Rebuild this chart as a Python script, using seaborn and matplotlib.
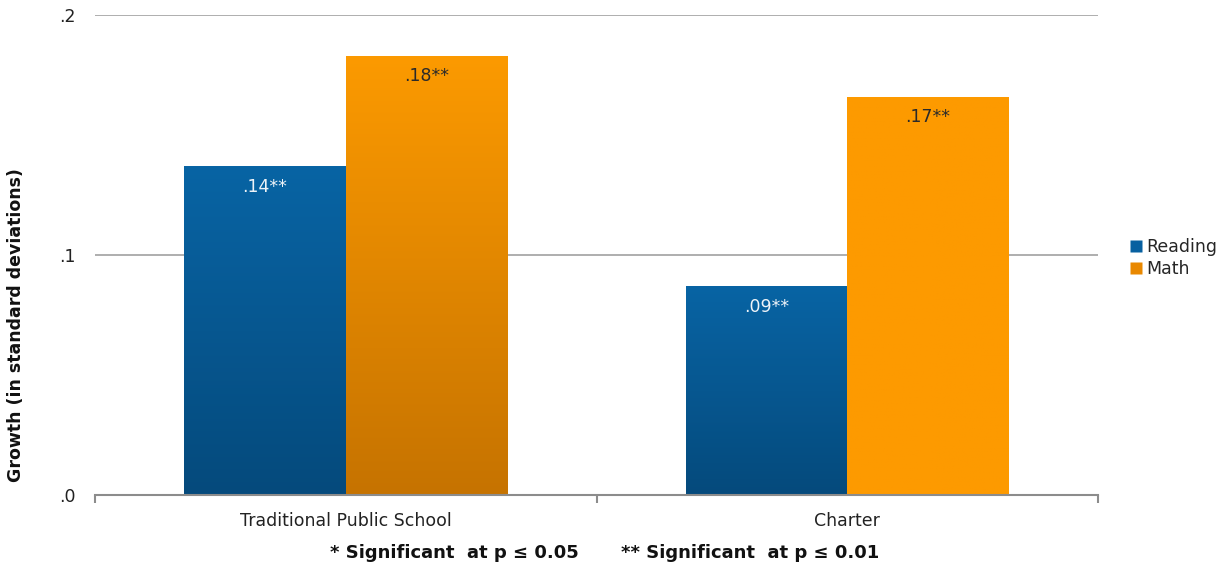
import numpy as np
import pandas as pd
import matplotlib
matplotlib.use("Agg")
import matplotlib.pyplot as plt
from matplotlib.colors import LinearSegmentedColormap
from matplotlib.lines import Line2D
import seaborn as sns

categories = ["Traditional Public School", "Charter"]
series = ["Reading", "Math"]
reading = [0.137, 0.087]
math_vals = [0.183, 0.166]
labels_reading = [".14**", ".09**"]
labels_math = [".18**", ".17**"]
yticks = [0.0, 0.1, 0.2]
ytick_labels = [".0", ".1", ".2"]

df = pd.DataFrame({
    "School": categories * 2,
    "Subject": ["Reading"] * 2 + ["Math"] * 2,
    "Growth": reading + math_vals,
})

sns.set_theme(style="white")
plt.rcParams["font.family"] = ["DejaVu Sans"]

fig = plt.figure(figsize=(12.28, 5.65), dpi=100)
ax = fig.add_axes([95 / 1228, 70 / 565, 1003 / 1228, 480 / 565])

palette = {"Reading": "#07599a", "Math": "#f89600"}
sns.barplot(data=df, x="School", y="Growth", hue="Subject", order=categories,
            hue_order=series, palette=palette, width=0.645, saturation=1,
            edgecolor="none", linewidth=0, ax=ax, legend=False, zorder=2)

ax.set_xlim(-0.5, 1.5)
ax.set_ylim(0, 0.2)

# gradients
grads = {
    ("Reading", 0): ("#0864a4", "#054a7c"),
    ("Reading", 1): ("#0864a4", "#054a7c"),
    ("Math", 0): ("#fc9a00", "#c67300"),
    ("Math", 1): ("#fd9a00", "#fd9a00"),
}
patches = list(ax.patches)
for i, p in enumerate(patches[:4]):
    subj = series[i // 2]
    cat = i % 2
    top, bot = grads[(subj, cat)]
    cmap = LinearSegmentedColormap.from_list("g", [bot, top])
    x0, y0 = p.get_x(), p.get_y()
    w, h = p.get_width(), p.get_height()
    grad = np.linspace(0, 1, 256).reshape(-1, 1)
    im = ax.imshow(grad, cmap=cmap, aspect="auto", origin="lower",
                   extent=[x0, x0 + w, y0, y0 + h], zorder=3)
    im.set_clip_path(p)
    lab = labels_reading[cat] if subj == "Reading" else labels_math[cat]
    col = "#eef3f8" if subj == "Reading" else "#2a2a2a"
    ax.text(x0 + w / 2, y0 + h - 0.0085, lab, ha="center", va="center",
            fontsize=12.5, color=col, zorder=4)
ax.set_xlim(-0.5, 1.5)
ax.set_ylim(0, 0.2)

for yv in yticks[1:]:
    ax.axhline(yv, color="#a8a8a8", lw=1.3, zorder=1)

for s in ["top", "right", "left"]:
    ax.spines[s].set_visible(False)
ax.spines["bottom"].set_color("#8c8c8c")
ax.spines["bottom"].set_linewidth(1.5)
ax.spines["bottom"].set_zorder(5)

ax.set_yticks(yticks)
ax.set_yticklabels(ytick_labels, fontsize=12.5, color="#222222")
ax.tick_params(axis="y", length=0, pad=14)
ax.set_xticks([0, 1])
ax.set_xticklabels(categories, fontsize=12.5, color="#222222")
ax.tick_params(axis="x", which="major", length=0, pad=12)
ax.set_xticks([-0.5, 0.5, 1.5], minor=True)
ax.tick_params(axis="x", which="minor", length=6, width=1.5, color="#8c8c8c",
               direction="out", bottom=True)
ax.set_xlabel("")
ax.set_ylabel("Growth (in standard deviations)", fontsize=12.5, fontweight="bold",
              color="#111111")
ax.yaxis.set_label_coords(-70 / 1003, 0.355)

handles = [Line2D([0], [0], marker="s", color="none", markerfacecolor="#0760a0",
                  markersize=9, markeredgecolor="none", label="Reading"),
           Line2D([0], [0], marker="s", color="none", markerfacecolor="#e98800",
                  markersize=9, markeredgecolor="none", label="Math")]
fig.legend(handles=handles, loc="center left", bbox_to_anchor=(1121 / 1228, 1 - 258 / 565),
           frameon=False, fontsize=12.5, handlelength=0.7, handletextpad=0.25,
           labelspacing=0.2, borderpad=0)

fig.text(454 / 1228, 1 - 553 / 565, "* Significant  at p \u2264 0.05", ha="center",
         va="center", fontsize=13, fontweight="bold", color="#111111")
fig.text(750 / 1228, 1 - 553 / 565, "** Significant  at p \u2264 0.01", ha="center",
         va="center", fontsize=13, fontweight="bold", color="#111111")

fig.savefig("out.png", dpi=100, facecolor="white")
